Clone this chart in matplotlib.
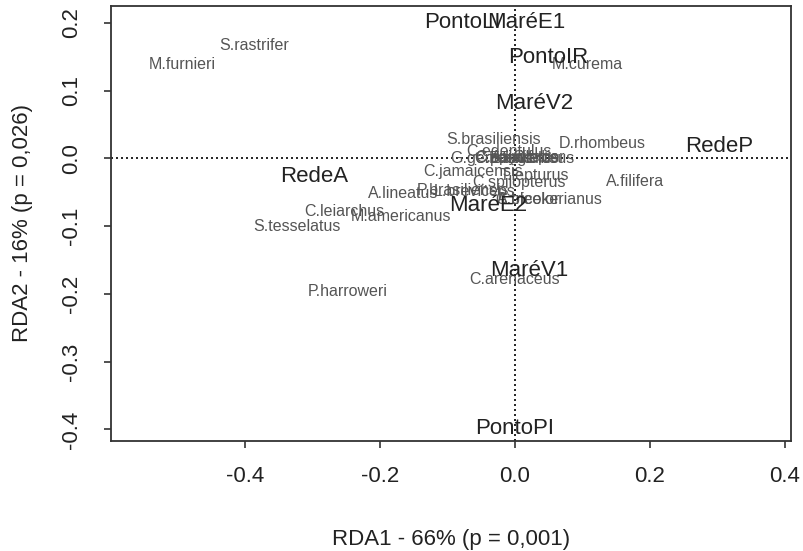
import matplotlib
matplotlib.use("Agg")
import matplotlib.pyplot as plt

plt.rcParams['font.family'] = ['Liberation Sans', 'DejaVu Sans']

# species scores (small grey labels)
species = ['S.rastrifer', 'M.furnieri', 'M.curema', 'S.brasiliensis', 'D.rhombeus',
           'C.edentulus', 'G.genidens', 'C.spixii', 'C.parallelus', 'A.lyolepis',
           'E.argenteus', 'C.faber', 'C.jamaicensis', 'T.lepturus', 'C.spilopterus',
           'A.lineatus', 'P.brasiliensis', 'L.breviceps', 'A.tricolor', 'C.bleekerianus',
           'A.filifera', 'C.leiarchus', 'M.americanus', 'S.tesselatus', 'C.arenaceus',
           'P.harroweri']
sp_x = [-0.386, -0.493, 0.107, -0.031, 0.129,
        -0.008, -0.035, -0.020, 0.002, 0.015,
        0.025, 0.035, -0.062, 0.029, 0.006,
        -0.166, -0.076, -0.060, 0.020, 0.050,
        0.178, -0.252, -0.168, -0.322, -0.001,
        -0.248]
sp_y = [0.167, 0.138, 0.139, 0.028, 0.022,
        0.011, 0.000, 0.001, 0.000, 0.001,
        0.000, 0.001, -0.019, -0.025, -0.036,
        -0.051, -0.047, -0.049, -0.060, -0.060,
        -0.034, -0.079, -0.085, -0.100, -0.178,
        -0.197]

# explanatory variables / sites (large labels)
sites = ['PontoLI', 'MaréE1', 'PontoIR', 'MaréV2', 'RedeP', 'RedeA',
         'MaréE2', 'MaréV1', 'PontoPI']
st_x = [-0.077, 0.017, 0.049, 0.029, 0.303, -0.297, -0.040, 0.021, 0.000]
st_y = [0.201, 0.201, 0.149, 0.081, 0.017, -0.026, -0.069, -0.165, -0.398]

xticks = [-0.4, -0.2, 0.0, 0.2, 0.4]
yticks = [0.2, 0.1, 0.0, -0.1, -0.2, -0.3, -0.4]

fig = plt.figure(figsize=(8.04, 5.51), dpi=100)
ax = fig.add_axes([111 / 804, 1 - 441 / 551, 680 / 804, 435 / 551])

ax.set_xlim(-0.598, 0.409)
ax.set_ylim(-0.417, 0.225)

# dotted zero lines
ax.axhline(0, color='black', lw=1.2, dashes=(1.2, 1.8))
ax.axvline(0, color='black', lw=1.2, dashes=(1.2, 1.8))

for name, x, y in zip(species, sp_x, sp_y):
    ax.text(x, y, name, ha='center', va='center', fontsize=11.5, color='#555555')
for name, x, y in zip(sites, st_x, st_y):
    ax.text(x, y, name, ha='center', va='center', fontsize=16, color='#222222')

ax.set_xticks(xticks)
ax.set_xticklabels(['%.1f' % v for v in xticks])
ax.set_yticks(yticks)
ax.set_yticklabels(['%.1f' % v for v in yticks], rotation=90, va='center')

for s in ax.spines.values():
    s.set_color('#333333')
    s.set_linewidth(1.3)
ax.tick_params(axis='both', length=5, width=1.2, color='#333333',
               labelsize=16, labelcolor='#222222')
ax.tick_params(axis='x', pad=13)
ax.tick_params(axis='y', pad=16)

ax.set_xlabel('RDA1 - 66% (p = 0,001)', fontsize=16, color='#222222', labelpad=30)
ax.set_ylabel('RDA2 - 16% (p = 0,026)', fontsize=16, color='#222222', labelpad=20)

plt.savefig('out.png', dpi=100)
